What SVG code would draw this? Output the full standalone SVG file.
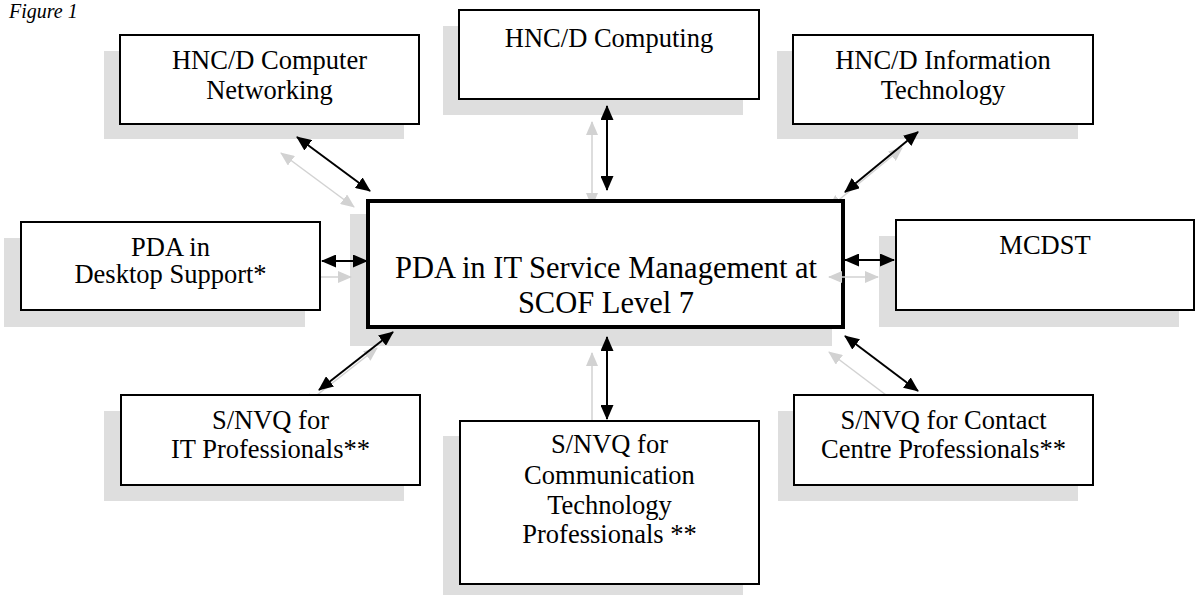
<svg xmlns="http://www.w3.org/2000/svg" width="1195" height="595" viewBox="0 0 1195 595">
<style>
.sh{fill:#dedede;stroke:none}
.bx{fill:#ffffff;stroke:#000000;stroke-width:2}
.cb{fill:#ffffff;stroke:#000000;stroke-width:4}
.t{font-family:"Liberation Serif","Times New Roman",serif;font-size:26.5px;fill:#000000;text-anchor:middle}
.tc{font-family:"Liberation Serif","Times New Roman",serif;font-size:30.5px;fill:#000000;text-anchor:middle}
.ab{stroke:#000000;stroke-width:2;fill:none;marker-start:url(#hb);marker-end:url(#hb)}
.ag{stroke:#d2d2d2;stroke-width:1.5;fill:none}
.g2{marker-start:url(#hg);marker-end:url(#hg)}
</style>
<defs>
<marker id="hb" markerUnits="userSpaceOnUse" viewBox="0 0 15 13" refX="14" refY="6.5" markerWidth="15" markerHeight="13" orient="auto-start-reverse"><path d="M0,0 L15,6.5 L0,13 z" fill="#000000"/></marker>
<marker id="hg" markerUnits="userSpaceOnUse" viewBox="0 0 14 12" refX="13" refY="6" markerWidth="14" markerHeight="12" orient="auto-start-reverse"><path d="M0,0 L14,6 L0,12 z" fill="#d2d2d2"/></marker>
</defs>
<text x="9" y="18" font-family="'Liberation Serif','Times New Roman',serif" font-style="italic" font-size="20" fill="#000000">Figure 1</text>
<g id="shadows">
<rect class="sh" x="104" y="51" width="300" height="88"/>
<rect class="sh" x="443" y="26" width="300" height="89"/>
<rect class="sh" x="777" y="51" width="301" height="88"/>
<rect class="sh" x="4" y="238" width="301" height="89"/>
<rect class="sh" x="350" y="214" width="482" height="132"/>
<rect class="sh" x="879" y="236" width="300" height="91"/>
<rect class="sh" x="104" y="411" width="300" height="90"/>
<rect class="sh" x="443" y="436" width="300" height="159"/>
<rect class="sh" x="778" y="411" width="300" height="90"/>
</g>
<g id="connector-shadows">
<line class="ag g2" x1="281" y1="153" x2="354" y2="207"/>
<line class="ag g2" x1="592" y1="122" x2="592" y2="206"/>
<line class="ag g2" x1="902" y1="148" x2="829" y2="208"/>
<line class="ag g2" x1="306" y1="277" x2="351" y2="277"/>
<line class="ag g2" x1="303" y1="406" x2="377" y2="348"/>
<line class="ag g2" x1="592" y1="353" x2="592" y2="435"/>
<line class="ag g2" x1="829" y1="352" x2="902" y2="407"/>
</g>
<g id="n-networking">
<rect class="bx" x="120" y="35" width="299" height="89"/>
<text class="t" x="269.5" y="69">HNC/D Computer</text>
<text class="t" x="269.5" y="99">Networking</text>
</g>
<g id="n-computing">
<rect class="bx" x="459" y="10" width="300" height="89"/>
<text class="t" x="609" y="47">HNC/D Computing</text>
</g>
<g id="n-infotech">
<rect class="bx" x="793" y="35" width="300" height="89"/>
<text class="t" x="943" y="69">HNC/D Information</text>
<text class="t" x="943" y="99">Technology</text>
</g>
<g id="n-pda-desktop">
<rect class="bx" x="21" y="222" width="299" height="88"/>
<text class="t" x="170.5" y="256">PDA in</text>
<text class="t" x="170.5" y="283">Desktop Support*</text>
</g>
<g id="n-center">
<rect class="cb" x="368" y="201" width="475" height="126"/>
<text class="tc" x="606" y="278">PDA in IT Service Management at</text>
<text class="tc" x="606" y="313">SCOF Level 7</text>
</g>
<g id="n-mcdst">
<rect class="bx" x="896" y="220" width="298" height="90"/>
<text class="t" x="1045" y="254">MCDST</text>
</g>
<g id="n-it-prof">
<rect class="bx" x="121" y="395" width="299" height="90"/>
<text class="t" x="270.5" y="429">S/NVQ for</text>
<text class="t" x="270.5" y="458">IT Professionals**</text>
</g>
<g id="n-comm-tech">
<rect class="bx" x="460" y="421" width="299" height="163"/>
<text class="t" x="609.5" y="453">S/NVQ for</text>
<text class="t" x="609.5" y="484">Communication</text>
<text class="t" x="609.5" y="514">Technology</text>
<text class="t" x="609.5" y="543">Professionals **</text>
</g>
<g id="n-contact">
<rect class="bx" x="794" y="395" width="299" height="90"/>
<text class="t" x="943.5" y="429">S/NVQ for Contact</text>
<text class="t" x="943.5" y="458">Centre Professionals**</text>
</g>
<g id="connectors">
<line class="ag g2" x1="829" y1="277" x2="878" y2="277"/>
<line class="ab" x1="297" y1="137" x2="370" y2="191"/>
<line class="ab" x1="607" y1="106" x2="607" y2="190"/>
<line class="ab" x1="918" y1="132" x2="845" y2="192"/>
<line class="ab" x1="322" y1="261" x2="367" y2="261"/>
<line class="ab" x1="845" y1="260" x2="894" y2="260"/>
<line class="ab" x1="319" y1="390" x2="393" y2="332"/>
<line class="ab" x1="607" y1="337" x2="607" y2="419"/>
<line class="ab" x1="845" y1="336" x2="918" y2="391"/>
</g>
</svg>
